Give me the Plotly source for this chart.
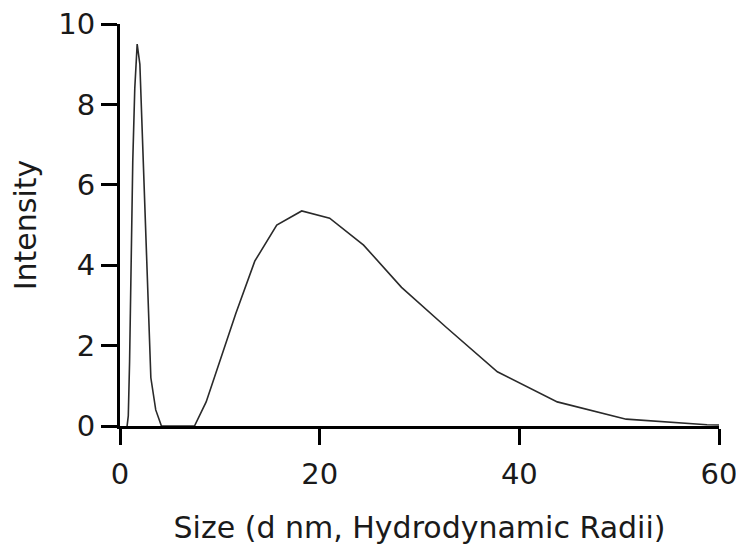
import plotly.graph_objects as go

# Size bins (d nm) and intensity values
size_nm = [0.71, 0.83, 0.96, 1.1, 1.28, 1.48, 1.72, 1.99, 2.3, 2.67, 3.09, 3.58,
           4.15, 4.8, 5.56, 6.44, 7.46, 8.63, 10.0, 11.6, 13.5, 15.7, 18.2, 21.0,
           24.4, 28.2, 32.7, 37.8, 43.8, 50.7, 58.8, 68.1]
intensity = [0.0, 0.25, 1.6, 3.9, 6.6, 8.4, 9.5, 9.0, 6.8, 3.96, 1.2, 0.4,
             0.0, 0.0, 0.0, 0.0, 0.0, 0.6, 1.6, 2.8, 4.1, 5.0, 5.35, 5.17,
             4.5, 3.45, 2.45, 1.35, 0.6, 0.17, 0.03, 0.0]

x_ticks = [0, 20, 40, 60]
y_ticks = [0, 2, 4, 6, 8, 10]

FONT = "DejaVu Sans"

fig = go.Figure()
fig.add_trace(go.Scatter(x=size_nm, y=intensity, mode="lines",
                         line=dict(color="#2a2a2a", width=1.6),
                         showlegend=False, hoverinfo="x+y"))

# page body has an 8px margin, so the figure is sized to fit the window
fig.update_layout(
    width=736, height=544,
    margin=dict(l=112, r=25, t=16, b=126),
    paper_bgcolor="white", plot_bgcolor="white",
    font=dict(family=FONT, color="#1a1a1a", size=28),
)
fig.update_xaxes(
    range=[0, 60], tickvals=x_ticks, ticktext=[str(v) for v in x_ticks],
    showgrid=False, zeroline=False, showline=True, linecolor="black", linewidth=3,
    ticks="outside", ticklen=16, tickwidth=3, tickcolor="black",
    tickfont=dict(size=29, family=FONT), automargin=False, ticklabelstandoff=4,
    ticklabeloverflow="allow",
    title=dict(text="Size (d nm, Hydrodynamic Radii)", font=dict(size=30, family=FONT), standoff=28),
)
fig.update_yaxes(
    range=[0, 10], tickvals=y_ticks, ticktext=[str(v) for v in y_ticks],
    showgrid=False, zeroline=False, showline=True, linecolor="black", linewidth=3,
    ticks="outside", ticklen=16, tickwidth=3, tickcolor="black",
    tickfont=dict(size=29, family=FONT), automargin=False,
    ticklabeloverflow="allow",
    title=dict(text="Intensity", font=dict(size=30, family=FONT), standoff=14),
)

fig.write_html("out.html")
